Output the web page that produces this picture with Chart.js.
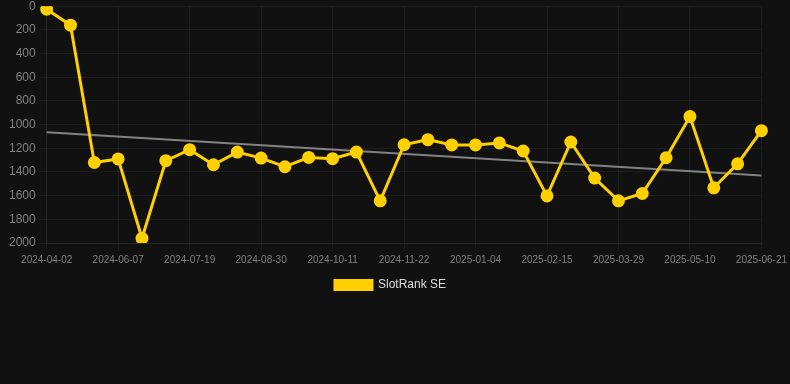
<!DOCTYPE html>
<html>
<head>
<meta charset="utf-8">
<script src="https://cdn.jsdelivr.net/npm/chart.js@4/dist/chart.umd.min.js"></script>
<style>
  html, body { margin: 0; padding: 0; background: #111111; overflow: hidden; }
  #wrap { position: relative; width: 790px; height: 307px; margin-top: -4px; }
</style>
</head>
<body>
<div id="wrap"><canvas id="rankChart"></canvas></div>
<script>
const dateLabels = [
  '2024-04-02', '2024-04-16', '2024-05-24', '2024-06-07', '2024-06-21', '2024-07-05',
  '2024-07-19', '2024-08-02', '2024-08-16', '2024-08-30', '2024-09-13', '2024-09-27',
  '2024-10-11', '2024-10-25', '2024-11-08', '2024-11-22', '2024-12-06', '2024-12-20',
  '2025-01-04', '2025-01-18', '2025-02-01', '2025-02-15', '2025-03-01', '2025-03-15',
  '2025-03-29', '2025-04-12', '2025-04-26', '2025-05-10', '2025-05-24', '2025-06-07',
  '2025-06-21'
];
const rankValues = [
  25, 160, 1320, 1290, 1960, 1305, 1212, 1339, 1232, 1283, 1356, 1277,
  1288, 1232, 1644, 1170, 1127, 1172, 1172, 1155, 1223, 1602, 1147, 1452,
  1644, 1582, 1280, 932, 1534, 1331, 1051
];
// trend line: start and end values only
const trendEnds = [1065, 1430];
const yTicks = { min: 0, max: 2000, step: 200 };

const trendData = [
  { x: dateLabels[0], y: trendEnds[0] },
  { x: dateLabels[dateLabels.length - 1], y: trendEnds[1] }
];

const ctx = document.getElementById('rankChart').getContext('2d');
new Chart(ctx, {
  type: 'line',
  data: {
    labels: dateLabels,
    datasets: [{
      label: 'SlotRank SE',
      data: rankValues,
      borderColor: '#FFD000',
      backgroundColor: '#FFD000',
      borderWidth: 3,
      pointRadius: 5,
      pointHoverRadius: 6,
      pointBackgroundColor: '#FFD000',
      pointBorderColor: '#FFD000',
      tension: 0,
      fill: false,
      order: 1
    }, {
      label: 'trend',
      data: trendData,
      borderColor: 'rgba(150,150,150,0.85)',
      borderWidth: 2,
      pointRadius: 0,
      fill: false,
      order: 2
    }]
  },
  options: {
    responsive: true,
    maintainAspectRatio: false,
    animation: false,
    layout: { padding: { left: 6, right: 15, bottom: 2 } },
    plugins: {
      legend: {
        position: 'bottom',
        labels: {
          color: '#dddddd',
          boxWidth: 37,
          boxHeight: 9,
          font: { size: 12 },
          filter: item => item.text !== 'trend'
        }
      },
      tooltip: { enabled: false }
    },
    scales: {
      x: {
        grid: { color: 'rgba(255,255,255,0.05)', tickLength: 8 },
        border: { color: 'rgba(255,255,255,0.05)' },
        ticks: {
          color: '#808080',
          font: { size: 10 },
          maxRotation: 0,
          autoSkip: false,
          callback: function (val, idx) {
            return idx % 3 === 0 ? this.getLabelForValue(val) : null;
          }
        }
      },
      y: {
        reverse: true,
        min: yTicks.min,
        max: yTicks.max,
        grid: { color: 'rgba(255,255,255,0.05)', tickLength: 8 },
        border: { color: 'rgba(255,255,255,0.05)' },
        ticks: {
          color: '#808080',
          font: { size: 12 },
          stepSize: yTicks.step,
          callback: val => String(val)
        }
      }
    }
  }
});
</script>
</body>
</html>
